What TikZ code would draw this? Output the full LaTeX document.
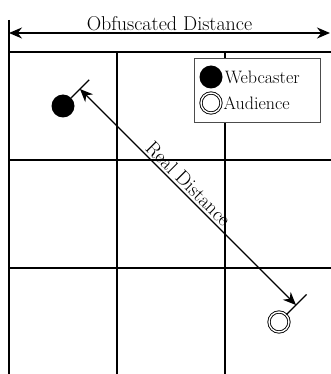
\documentclass[tikz,border=0pt]{standalone}
\usetikzlibrary{calc,arrows.meta,positioning}
\tikzset{
  gridline/.style={line width=1.2pt},
  dimline/.style={line width=1.3pt,{Stealth[length=13pt,width=11pt]}-{Stealth[length=13pt,width=11pt]}},
  tickline/.style={line width=1.2pt},
  webdot/.style={circle,fill=black,minimum size=23pt,inner sep=0pt},
  auddot/.style={circle,draw,double,line width=0.9pt,double distance=1.4pt,minimum size=20pt,inner sep=0pt},
  lbl/.style={font=\fontsize{18}{20}\selectfont,inner sep=1pt},
  biglbl/.style={font=\fontsize{20}{22}\selectfont,inner sep=1pt}
}
\begin{document}
\begin{tikzpicture}[x=1pt,y=-1pt]
\useasboundingbox (0,0) rectangle (331,374);
% grid
\foreach \y in {52,160,268} \draw[gridline] (9,\y) -- (331,\y);
\foreach \x in {117,225} \draw[gridline] (\x,52) -- (\x,374);
\draw[gridline] (9,20) -- (9,374);
% obfuscated distance
\coordinate (obfL) at (9,33);
\coordinate (obfR) at (330,33);
\draw[dimline] (obfL) -- node[biglbl,above=1pt] (obflbl) {Obfuscated Distance} (obfR);
% legend
\draw[black!70,line width=0.8pt,fill=white] (194,58) rectangle (320,122);
\node[webdot] (legweb) at (211,77) {};
\node[lbl,right=1pt of legweb] (legwebtxt) {Webcaster};
\node[auddot] (legaud) at (211,103) {};
\node[lbl,right=1pt of legaud] (legaudtxt) {Audience};
% positions
\node[webdot] (web) at (63,106) {};
\node[auddot] (aud) at (279,322) {};
\draw[tickline] (web.45) -- ($(web.center)!37pt!(web.45)$);
\draw[tickline] (aud.45) -- ($(aud.center)!39pt!(aud.45)$);
\coordinate (webA) at ($(web.center)!24pt!(web.45)$);
\coordinate (audA) at ($(aud.center)!24pt!(aud.45)$);
\draw[dimline] (webA) -- node[biglbl,sloped,above=1pt,pos=0.47] (reallbl) {Real Distance} (audA);
\end{tikzpicture}
\end{document}
